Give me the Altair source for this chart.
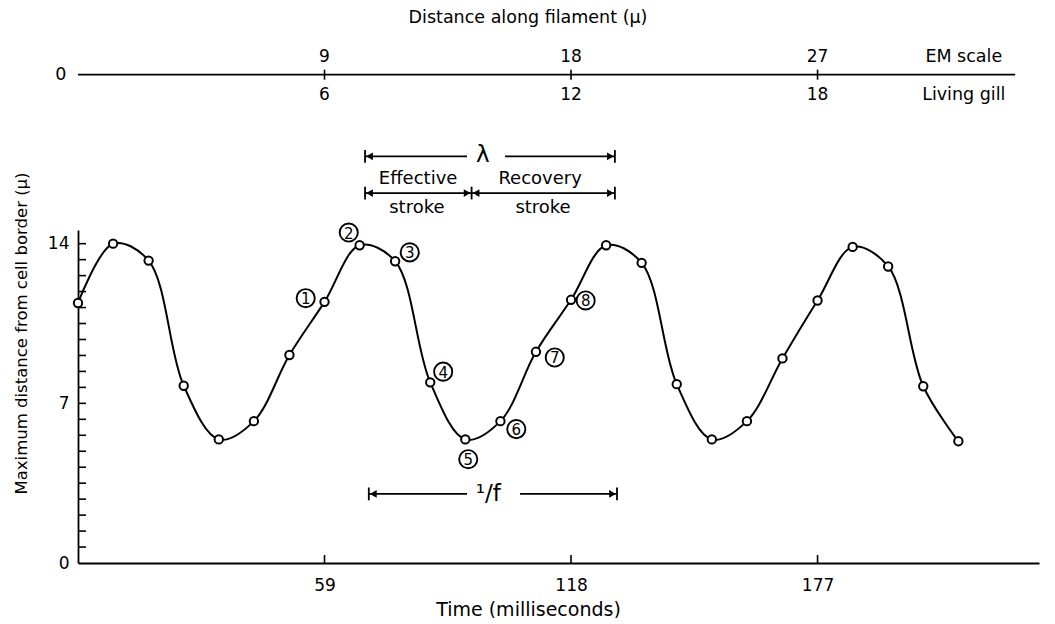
import altair as alt
import pandas as pd

# ---- main series (time in ms, max distance from cell border in micra) ----
time_ms = [0, 8.4, 16.9, 25.3, 33.7, 42.1, 50.6, 59.0, 67.4, 75.9, 84.3, 92.7, 101.1,
           109.6, 118.0, 126.4, 134.9, 143.3, 151.7, 160.1, 168.6, 177.0, 185.4, 193.9,
           202.3, 210.7]
distance = [11.4, 14.0, 13.26, 7.77, 5.42, 6.22, 9.12, 11.45, 13.93, 13.23, 7.92, 5.42,
            6.22, 9.26, 11.54, 13.93, 13.16, 7.84, 5.42, 6.22, 8.97, 11.51, 13.86, 13.0,
            7.75, 5.34]

# circled stage numbers (position in data units)
stage_num = ["1", "2", "3", "4", "5", "6", "7", "8"]
stage_x = [54.5, 64.8, 79.4, 87.4, 93.4, 104.9, 114.1, 121.5]
stage_y = [11.61, 14.49, 13.62, 8.39, 4.55, 5.87, 9.01, 11.51]

# axes
time_ticks = [59, 118, 177]
y_labels = [0, 7, 14]
y_minor = [0.7, 1.4, 2.1, 2.8, 3.5, 4.2, 4.9, 5.6, 6.3, 7.0, 7.7, 8.4, 9.1, 9.8,
           10.5, 11.2, 11.9, 12.6, 13.3, 14.0]

# top "distance along filament" scale
em_labels = ["9", "18", "27"]
gill_labels = ["6", "12", "18"]

FONT = "DejaVu Sans"
xs = alt.Scale(domain=[0, 230], nice=False, zero=False)
ys = alt.Scale(domain=[0, 14.6], nice=False, zero=False)
W, H = 961, 333

x_axis = alt.Axis(
    values=time_ticks, tickSize=0, labelPadding=14, labelFontSize=17,
    labelFont=FONT, labelColor="black", grid=False, domainColor="black",
    domainWidth=1.8, title="Time (milliseconds)", titleFont=FONT,
    titleFontSize=19, titleFontWeight="normal", titleColor="black",
    titleX=450, titleY=46, titleAlign="center", titleBaseline="middle")
y_axis = alt.Axis(
    values=y_labels, tickSize=0, labelPadding=9, labelFontSize=17,
    labelFont=FONT, labelColor="black", grid=False, domainColor="black",
    domainWidth=1.8, title="Maximum distance from cell border (μ)",
    titleFont=FONT, titleFontSize=16.5, titleFontWeight="normal",
    titleColor="black", titleX=-57, titleY=103, titleAngle=270,
    titleAlign="center", titleBaseline="middle")


def X(f):
    return alt.X(f, type="quantitative", scale=xs, axis=x_axis)


def Y(f):
    return alt.Y(f, type="quantitative", scale=ys, axis=y_axis)


series = pd.DataFrame({"t": time_ms, "d": distance})

line = alt.Chart(series).mark_line(
    color="black", strokeWidth=2, interpolate="catmull-rom"
).encode(x=X("t"), y=Y("d"))

pts = alt.Chart(series).mark_point(
    shape="circle", filled=True, fill="white", stroke="black", strokeWidth=2,
    size=70, opacity=1
).encode(x=X("t"), y=Y("d"))

# inward ticks on the axes
yt = alt.Chart(pd.DataFrame({"v": y_minor})).mark_rule(
    color="black", strokeWidth=1.6
).encode(x=alt.value(0), x2=alt.value(8), y=Y("v"))
xt = alt.Chart(pd.DataFrame({"v": time_ticks})).mark_rule(
    color="black", strokeWidth=1.6
).encode(x=X("v"), y=alt.value(H), y2=alt.value(H - 8))

# circled stage labels
stages = pd.DataFrame({"x": stage_x, "y": stage_y, "n": stage_num})
st_circ = alt.Chart(stages).mark_point(
    shape="circle", filled=False, stroke="black", strokeWidth=1.9, size=330, opacity=1
).encode(x=X("x"), y=Y("y"))
st_txt = alt.Chart(stages).mark_text(
    font=FONT, fontSize=15, color="black", baseline="middle", align="center", dy=1
).encode(x=X("x"), y=Y("y"), text="n:N")

# ---- top distance scale ----
top_y = 21.41
top_line = alt.Chart(pd.DataFrame({"a": [0], "b": [224.3], "y": [top_y]})).mark_rule(
    color="black", strokeWidth=1.8
).encode(x=X("a"), x2="b:Q", y=Y("y"))
top_df = pd.DataFrame({"t": time_ticks, "em": em_labels, "gill": gill_labels,
                       "y1": [top_y + 0.22] * 3, "y2": [top_y - 0.22] * 3})
top_ticks = alt.Chart(top_df).mark_rule(color="black", strokeWidth=1.6).encode(
    x=X("t"), y=Y("y1"), y2="y2:Q")
top_em = alt.Chart(top_df.assign(yy=22.2)).mark_text(
    font=FONT, fontSize=17, color="black", baseline="middle"
).encode(x=X("t"), y=Y("yy"), text="em:N")
top_gill = alt.Chart(top_df.assign(yy=20.5)).mark_text(
    font=FONT, fontSize=17, color="black", baseline="middle"
).encode(x=X("t"), y=Y("yy"), text="gill:N")

top_text = pd.DataFrame({
    "x": [-4.1, 212.0, 212.0, 107.7],
    "y": [top_y, 22.2, 20.5, 23.9],
    "s": ["0", "EM scale", "Living gill", "Distance along filament (μ)"],
})
top_words = alt.Chart(top_text).mark_text(
    font=FONT, fontSize=17.5, color="black", baseline="middle"
).encode(x=X("x"), y=Y("y"), text="s:N")

# ---- annotation arrows ----
seg = pd.DataFrame({
    "a": [68.7, 102.2, 68.7, 94.2, 69.6, 105.8],
    "b": [93.1, 128.5, 94.2, 128.5, 93.1, 129.0],
    "y": [17.83, 17.83, 16.22, 16.22, 3.03, 3.03],
})
segs = alt.Chart(seg).mark_rule(color="black", strokeWidth=1.8).encode(
    x=X("a"), x2="b:Q", y=Y("y"))

bars = pd.DataFrame({
    "x": [68.7, 128.5, 68.7, 94.2, 128.5, 69.6, 129.0],
    "y": [17.83, 17.83, 16.22, 16.22, 16.22, 3.03, 3.03],
})
bars["y1"] = bars["y"] + 0.28
bars["y2"] = bars["y"] - 0.28
bar_marks = alt.Chart(bars).mark_rule(color="black", strokeWidth=1.8).encode(
    x=X("x"), y=Y("y1"), y2="y2:Q")

heads_l = pd.DataFrame({"x": [68.7, 68.7, 94.2, 69.6], "y": [17.83, 16.22, 16.22, 3.03]})
heads_r = pd.DataFrame({"x": [128.5, 94.2, 128.5, 129.0], "y": [17.83, 16.22, 16.22, 3.03]})
hl = alt.Chart(heads_l).mark_point(
    shape="triangle-left", filled=True, color="black", size=60, opacity=1, xOffset=4.5
).encode(x=X("x"), y=Y("y"))
hr = alt.Chart(heads_r).mark_point(
    shape="triangle-right", filled=True, color="black", size=60, opacity=1, xOffset=-4.5
).encode(x=X("x"), y=Y("y"))

ann = pd.DataFrame({
    "x": [81.4, 81.1, 110.6, 111.3],
    "y": [16.85, 15.55, 16.85, 15.55],
    "s": ["Effective", "stroke", "Recovery", "stroke"],
})
ann_txt = alt.Chart(ann).mark_text(
    font=FONT, fontSize=18, color="black", baseline="middle"
).encode(x=X("x"), y=Y("y"), text="s:N")

sym = pd.DataFrame({"x": [96.9, 98.2], "y": [17.9, 3.03], "s": ["λ", "¹/f"]})
sym_txt = alt.Chart(sym).mark_text(
    font=FONT, fontSize=23, color="black", baseline="middle"
).encode(x=X("x"), y=Y("y"), text="s:N")

chart = alt.layer(
    line, yt, xt, pts, st_circ, st_txt, top_line, top_ticks, top_em, top_gill,
    top_words, segs, bar_marks, hl, hr, ann_txt, sym_txt
).properties(
    width=W, height=H,
    padding={"left": 70, "top": 222, "right": 5, "bottom": 55},
    autosize=alt.AutoSizeParams(type="none"),
    background="white",
).configure_view(stroke=None)

chart.save("out.html", embed_options={"renderer": "svg", "actions": False})
